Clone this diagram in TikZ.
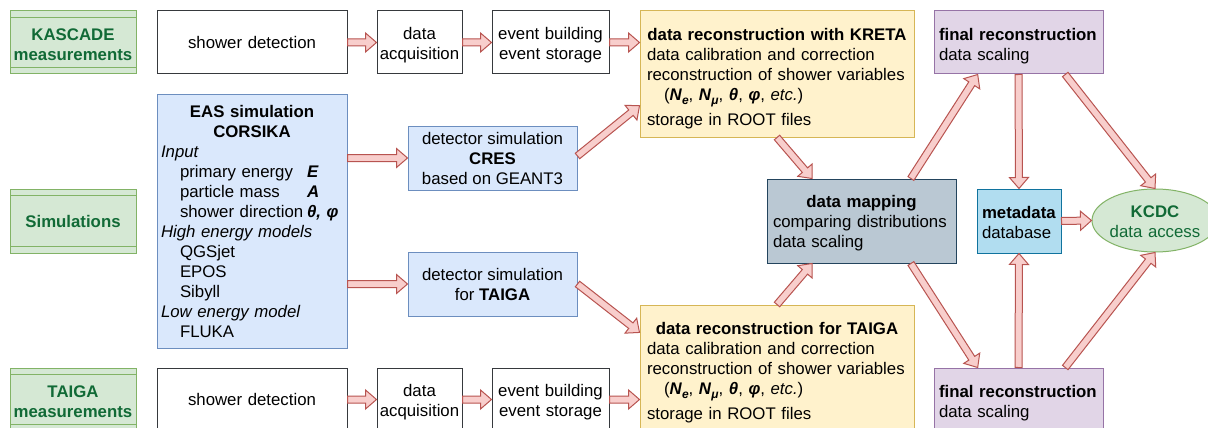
\documentclass[tikz,border=0pt]{standalone}
\usepackage{fontspec}
\setmainfont{Liberation Sans}
\usetikzlibrary{calc,shapes.geometric}
\definecolor{lanefill}{HTML}{D5E8D4}
\definecolor{laneline}{HTML}{82B366}
\definecolor{dgreen}{HTML}{116A36}
\definecolor{boxgray}{HTML}{36393D}
\definecolor{bluefill}{HTML}{DAE8FC}
\definecolor{blueline}{HTML}{6C8EBF}
\definecolor{yelfill}{HTML}{FFF2CC}
\definecolor{yelline}{HTML}{D6B656}
\definecolor{purfill}{HTML}{E1D5E7}
\definecolor{purline}{HTML}{9673A6}
\definecolor{mapfill}{HTML}{BAC8D3}
\definecolor{mapline}{HTML}{23445D}
\definecolor{metafill}{HTML}{B1DDF0}
\definecolor{metaline}{HTML}{10739E}
\definecolor{arrfill}{HTML}{F8CECC}
\definecolor{arrline}{HTML}{B85450}
\newcommand\bv[1]{\textbf{\textit{#1}}}
\newcommand\sbv[2]{\bv{#1}\raisebox{-4pt}{\fontsize{12}{12}\selectfont\bv{#2}}}
\newcommand\ind{\hspace*{19pt}}
\newcommand\barrow[2]{%
  \coordinate (ba-s) at (#1);
  \coordinate (ba-t) at (#2);
  \coordinate (ba-h) at ($(ba-t)!11pt!(ba-s)$);
  \draw[blockarrow] ($(ba-s)!3.5pt!90:(ba-t)$) -- ($(ba-h)!3.5pt!-90:(ba-s)$)
    -- ($(ba-h)!9.5pt!-90:(ba-s)$) -- (ba-t) -- ($(ba-h)!9.5pt!90:(ba-s)$)
    -- ($(ba-h)!3.5pt!90:(ba-s)$) -- ($(ba-s)!3.5pt!-90:(ba-t)$) -- cycle;}
\tikzset{
  base/.style={draw, line width=1pt, inner sep=0pt, font=\fontsize{16.8}{20}\selectfont},
  textdown/.style={execute at end node={\par\vspace*{-#1}}},
  plainbox/.style={base, draw=boxgray, fill=white, align=center, minimum height=63pt, textdown=6pt},
  lane/.style={base, draw=laneline, fill=lanefill, text=dgreen, align=center,
    font=\fontsize{16.8}{20}\selectfont\bfseries, minimum width=126pt, text width=122pt, textdown=4pt,
    path picture={
      \draw[laneline, line width=1pt] ([yshift=-6.5pt]path picture bounding box.north west) -- ([yshift=-6.5pt]path picture bounding box.north east);
      \draw[laneline, line width=1pt] ([yshift=6.5pt]path picture bounding box.south west) -- ([yshift=6.5pt]path picture bounding box.south east);}},
  bluebox/.style={base, draw=blueline, fill=bluefill},
  yelbox/.style={base, draw=yelline, fill=yelfill, minimum width=274pt, minimum height=126pt, text width=260pt, textdown=9pt},
  purbox/.style={base, draw=purline, fill=purfill, minimum width=169pt, minimum height=63pt, text width=159pt, align=left, textdown=7pt},
  blockarrow/.style={draw=arrline, fill=arrfill, line width=1pt, line join=miter}
}
\begin{document}
\begin{tikzpicture}[x=1pt,y=-1pt]
\useasboundingbox (0,0) rectangle (1208,428);
\clip (0,0) rectangle (1208,428);
\fill[white] (0,0) rectangle (1208,428);

% lanes
\node[lane, minimum height=63pt] (kas) at (73,42.5) {KASCADE\\measurements};
\node[lane, minimum height=64pt] (sim) at (73,221) {Simulations};
\node[lane, minimum height=63pt] (taigam) at (73,399.5) {TAIGA\\measurements};

% KASCADE row
\node[plainbox, minimum width=190pt, text width=180pt, textdown=4pt] (sd1) at (252,42.5) {shower detection};
\node[plainbox, minimum width=85pt, text width=82pt] (acq1) at (419.5,42.5) {data\\acquisition};
\node[plainbox, minimum width=117pt, text width=114pt] (eb1) at (550.5,42.5) {event building\\event storage};
\node[yelbox] (kreta) at (777,74) {\centering\textbf{data reconstruction with KRETA}\par
  \raggedright data calibration and correction\par
  reconstruction of shower variables\par
  \hspace*{17pt}(\sbv{N}{e}, \sbv{N}{μ}, \bv{θ}, \bv{φ}, \textit{etc.})\par
  \vspace{5pt}storage in ROOT files};
\node[purbox] (fin1) at (1018.5,42.5) {\textbf{final reconstruction}\\data scaling};

% TAIGA row
\node[plainbox, minimum width=190pt, text width=180pt, textdown=4pt] (sd2) at (252,399.5) {shower detection};
\node[plainbox, minimum width=85pt, text width=82pt] (acq2) at (419.5,399.5) {data\\acquisition};
\node[plainbox, minimum width=117pt, text width=114pt] (eb2) at (550.5,399.5) {event building\\event storage};
\node[yelbox] (taigay) at (777,368) {\centering\textbf{data reconstruction for TAIGA}\par
  \raggedright data calibration and correction\par
  reconstruction of shower variables\par
  \hspace*{17pt}(\sbv{N}{e}, \sbv{N}{μ}, \bv{θ}, \bv{φ}, \textit{etc.})\par
  \vspace{5pt}storage in ROOT files};
\node[purbox] (fin2) at (1018.5,399.5) {\textbf{final reconstruction}\\data scaling};

% simulation
\node[bluebox, minimum width=190pt, minimum height=253pt, text width=182pt] (eas) at (252,221.5) {%
  \centering\textbf{EAS simulation}\par\textbf{CORSIKA}\par
  \raggedright\textit{Input}\par
  \ind\makebox[127pt][l]{primary energy}\bv{E}\par
  \ind\makebox[127pt][l]{particle mass}\bv{A}\par
  \ind\makebox[127pt][l]{shower direction}\bv{θ, φ}\par
  \textit{High energy models}\par
  \ind QGSjet\par
  \ind EPOS\par
  \ind Sibyll\par
  \textit{Low energy model}\par
  \ind FLUKA};
\node[bluebox, minimum width=169pt, minimum height=64pt, align=center] (cres) at (492.5,158) {detector simulation\\\textbf{CRES}\\based on GEANT3};
\node[bluebox, minimum width=169pt, minimum height=64pt, align=center] (tdet) at (492.5,284) {detector simulation\\for \textbf{TAIGA}};

% right part
\node[base, draw=mapline, fill=mapfill, minimum width=189pt, minimum height=84pt, text width=177pt, textdown=4pt] (map) at (861.5,221) {%
  \centering\textbf{data mapping}\par\raggedright comparing distributions\par data scaling};
\node[base, draw=metaline, fill=metafill, minimum width=84pt, minimum height=64pt, text width=74pt, align=left, textdown=3pt] (meta) at (1019,221) {\textbf{metadata}\\database};
\node[base, ellipse, draw=laneline, fill=lanefill, text=dgreen, minimum width=126pt, minimum height=63pt, text width=92pt, inner xsep=-6pt, align=center, textdown=3pt] (kcdc) at (1155,220.5) {\textbf{KCDC}\\data access};

% arrows
\barrow{sd1.east}{acq1.west}
\barrow{acq1.east}{eb1.west}
\barrow{eb1.east}{eb1.east -| kreta.west}
\barrow{sd2.east}{acq2.west}
\barrow{acq2.east}{eb2.west}
\barrow{eb2.east}{eb2.east -| taigay.west}
\barrow{eas.east |- cres.west}{cres.west}
\barrow{eas.east |- tdet.west}{tdet.west}
\barrow{[yshift=2pt]cres.east}{$(kreta.south west)!0.25!(kreta.north west)$}
\barrow{tdet.east}{$(taigay.north west)!0.22!(taigay.south west)$}
\barrow{kreta.south}{$(map.north west)!0.24!(map.north east)$}
\barrow{taigay.north}{$(map.south west)!0.24!(map.south east)$}
\barrow{$(map.north west)!0.76!(map.north east)$}{$(fin1.south west)!0.26!(fin1.south east)$}
\barrow{$(map.south west)!0.76!(map.south east)$}{$(fin2.north west)!0.26!(fin2.north east)$}
\barrow{fin1.south}{meta.north}
\barrow{fin2.north}{meta.south}
\barrow{$(fin1.south west)!0.775!(fin1.south east)$}{kcdc.north}
\barrow{$(fin2.north west)!0.775!(fin2.north east)$}{kcdc.south}
\barrow{meta.east}{kcdc.west}
\end{tikzpicture}
\end{document}
